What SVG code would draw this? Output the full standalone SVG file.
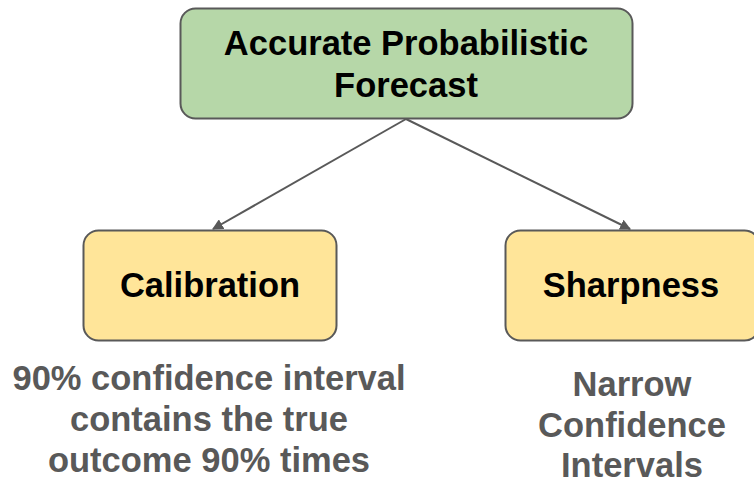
<svg xmlns="http://www.w3.org/2000/svg" width="754" height="484" viewBox="0 0 754 484">
  <defs>
    <marker id="arrow" viewBox="0 0 10 10" refX="9" refY="5" markerWidth="5.5" markerHeight="5.5" orient="auto" markerUnits="strokeWidth">
      <path d="M0,0 L10,5 L0,10 z" fill="#595959"/>
    </marker>
  </defs>
  <style>
    .box { stroke: #595959; stroke-width: 2; }
    .top { fill: #b6d7a8; }
    .sub { fill: #ffe599; }
    .label { font-family: "Liberation Sans", Arial, sans-serif; font-weight: bold; font-size: 34.5px; fill: #000; text-anchor: middle; }
    .note { font-family: "Liberation Sans", Arial, sans-serif; font-weight: bold; font-size: 34.5px; fill: #595959; text-anchor: middle; }
    .edge { stroke: #595959; stroke-width: 2; fill: none; marker-end: url(#arrow); }
  </style>
  <rect width="754" height="484" fill="#ffffff"/>

  <g id="connectors">
    <line class="edge" x1="406" y1="119" x2="213" y2="229"/>
    <line class="edge" x1="406" y1="119" x2="630" y2="229"/>
  </g>

  <g id="forecast">
    <rect class="box top" x="180.5" y="8.5" width="452" height="110" rx="15"/>
    <text class="label" x="406" y="55">Accurate Probabilistic</text>
    <text class="label" x="406" y="97">Forecast</text>
  </g>

  <g id="calibration">
    <rect class="box sub" x="83.5" y="230.5" width="253" height="110" rx="15"/>
    <text class="label" x="210" y="297">Calibration</text>
  </g>

  <g id="sharpness">
    <rect class="box sub" x="505.5" y="230.5" width="254" height="110" rx="15"/>
    <text class="label" x="631" y="297">Sharpness</text>
  </g>

  <g id="calibration-note">
    <text class="note" x="209" y="390">90% confidence interval</text>
    <text class="note" x="209" y="431">contains the true</text>
    <text class="note" x="209" y="472">outcome 90% times</text>
  </g>

  <g id="sharpness-note">
    <text class="note" x="632" y="396">Narrow</text>
    <text class="note" x="632" y="437">Confidence</text>
    <text class="note" x="632" y="477">Intervals</text>
  </g>
</svg>
